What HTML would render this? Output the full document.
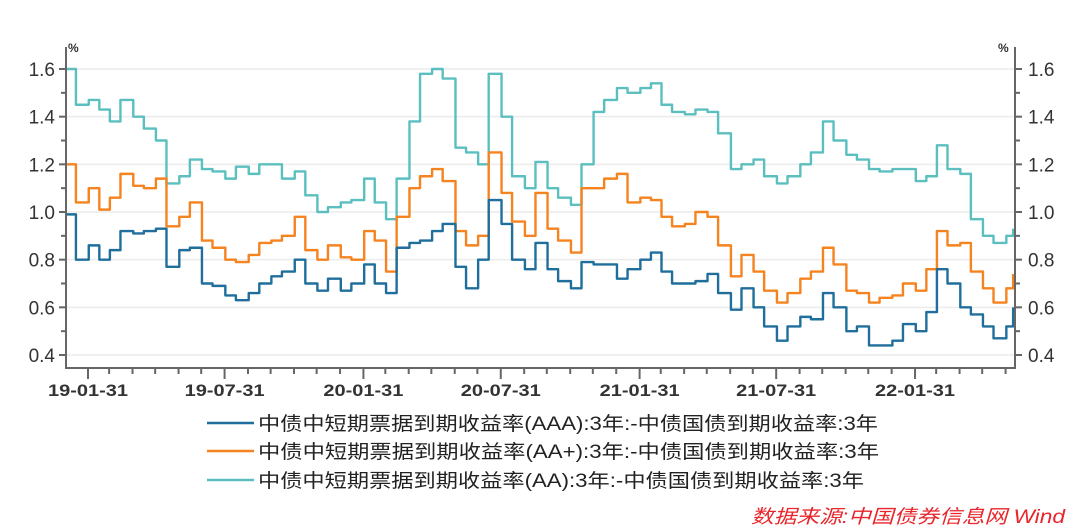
<!DOCTYPE html>
<html><head><meta charset="utf-8"><style>
html,body{margin:0;padding:0;background:#fff;width:1080px;height:528px;overflow:hidden}
svg{display:block}
text{font-family:"Liberation Sans","Noto Sans CJK SC",sans-serif}
</style></head><body>
<svg id="chart" width="1080" height="528" viewBox="0 0 1080 528">
<g id="grid"></g>
<g id="series"></g>
<g id="axes"></g>
<g>
 <g>
  <line x1="207" y1="423" x2="254" y2="423" stroke="#1f6e9c" stroke-width="2.5"/>
  <text x="258" y="430" font-size="19" fill="#222" textLength="620" lengthAdjust="spacingAndGlyphs">中债中短期票据到期收益率(AAA):3年:-中债国债到期收益率:3年</text>
 </g>
 <g>
  <line x1="207" y1="451" x2="254" y2="451" stroke="#f5831f" stroke-width="2.5"/>
  <text x="258" y="458" font-size="19" fill="#222" textLength="621" lengthAdjust="spacingAndGlyphs">中债中短期票据到期收益率(AA+):3年:-中债国债到期收益率:3年</text>
 </g>
 <g>
  <line x1="207" y1="480" x2="254" y2="480" stroke="#5bbfbf" stroke-width="2.5"/>
  <text x="258" y="487" font-size="19" fill="#222" textLength="606" lengthAdjust="spacingAndGlyphs">中债中短期票据到期收益率(AA):3年:-中债国债到期收益率:3年</text>
 </g>
</g>
<text x="751" y="523" font-size="19" font-style="italic" fill="#e8262b" textLength="314" lengthAdjust="spacingAndGlyphs">数据来源:中国债券信息网 Wind</text>
</svg>
<script>
const dates = ["2019-01-01","2019-01-15","2019-02-01","2019-02-15","2019-03-01","2019-03-15","2019-04-01","2019-04-15","2019-05-01","2019-05-15","2019-06-01","2019-06-15","2019-07-01","2019-07-15","2019-08-01","2019-08-15","2019-09-01","2019-09-15","2019-10-01","2019-10-15","2019-11-01","2019-11-15","2019-12-01","2019-12-15",
"2020-01-01","2020-01-15","2020-02-01","2020-02-15","2020-03-01","2020-03-15","2020-04-01","2020-04-15","2020-05-01","2020-05-15","2020-06-01","2020-06-15","2020-07-01","2020-07-15","2020-08-01","2020-08-15","2020-09-01","2020-09-15","2020-10-01","2020-10-15","2020-11-01","2020-11-15","2020-12-01","2020-12-15",
"2021-01-01","2021-01-15","2021-02-01","2021-02-15","2021-03-01","2021-03-15","2021-04-01","2021-04-15","2021-05-01","2021-05-15","2021-06-01","2021-06-15","2021-07-01","2021-07-15","2021-08-01","2021-08-15","2021-09-01","2021-09-15","2021-10-01","2021-10-15","2021-11-01","2021-11-15","2021-12-01","2021-12-15",
"2022-01-01","2022-01-15","2022-02-01","2022-02-15","2022-03-01","2022-03-15","2022-04-01","2022-04-15","2022-05-01","2022-05-15","2022-06-01","2022-06-10"];
const aaaValues = [0.99,0.8,0.86,0.8,0.84,0.92,0.91,0.92,0.93,0.77,0.84,0.85,0.7,0.69,0.65,0.63,0.66,0.7,0.73,0.75,0.8,0.7,0.67,0.72,0.67,0.7,0.78,0.7,0.66,0.85,0.87,0.88,0.92,0.95,0.77,0.68,0.8,1.05,0.95,0.8,0.76,0.87,0.76,0.71,0.68,0.79,0.78,0.78,0.72,0.76,0.8,0.83,0.75,0.7,0.7,0.71,0.74,0.66,0.59,0.68,0.6,0.52,0.46,0.52,0.56,0.55,0.66,0.6,0.5,0.52,0.44,0.44,0.46,0.53,0.5,0.58,0.76,0.7,0.6,0.57,0.52,0.47,0.52,0.6];
const aaPlusValues = [1.2,1.04,1.1,1.01,1.06,1.16,1.11,1.1,1.14,0.94,0.98,1.04,0.88,0.85,0.8,0.79,0.82,0.87,0.88,0.9,0.98,0.84,0.8,0.86,0.81,0.8,0.92,0.88,0.75,0.98,1.1,1.15,1.18,1.13,0.92,0.86,0.9,1.25,1.08,0.96,0.9,1.08,0.93,0.88,0.83,1.1,1.1,1.14,1.16,1.04,1.06,1.05,0.98,0.94,0.95,1.0,0.98,0.86,0.73,0.82,0.75,0.67,0.62,0.66,0.72,0.75,0.85,0.78,0.67,0.66,0.62,0.64,0.65,0.7,0.67,0.76,0.92,0.86,0.87,0.75,0.68,0.62,0.68,0.74];
const aaValues = [1.6,1.45,1.47,1.43,1.38,1.47,1.4,1.35,1.3,1.12,1.15,1.22,1.18,1.17,1.14,1.19,1.16,1.2,1.2,1.14,1.17,1.07,1.0,1.02,1.04,1.05,1.14,1.04,0.97,1.14,1.38,1.58,1.6,1.56,1.27,1.25,1.2,1.58,1.4,1.15,1.1,1.21,1.1,1.06,1.03,1.2,1.42,1.47,1.52,1.5,1.52,1.54,1.45,1.42,1.41,1.43,1.42,1.33,1.18,1.2,1.22,1.15,1.12,1.15,1.2,1.25,1.38,1.3,1.24,1.22,1.18,1.17,1.18,1.18,1.13,1.15,1.28,1.18,1.16,0.97,0.9,0.87,0.9,0.93];
const yTicks = ["0.4","0.6","0.8","1.0","1.2","1.4","1.6"];
const xTickLabels = ["19-01-31","19-07-31","20-01-31","20-07-31","21-01-31","21-07-31","22-01-31"];
const xTickDates = ["2019-01-31","2019-07-31","2020-01-31","2020-07-31","2021-01-31","2021-07-31","2022-01-31"];

const NS="http://www.w3.org/2000/svg";
const L=66,R=1015,T=47,B=368;
const ref=Date.UTC(2019,0,31);
function days(s){const p=s.split("-");return (Date.UTC(+p[0],+p[1]-1,+p[2])-ref)/86400000;}
function xs(s){return 88+days(s)*0.7546;}
function ys(v){return 355-(v-0.4)*238.33;}
function mk(tag,attrs,parent){const e=document.createElementNS(NS,tag);for(const k in attrs)e.setAttribute(k,attrs[k]);parent.appendChild(e);return e;}
const grid=document.getElementById("grid"),axes=document.getElementById("axes"),ser=document.getElementById("series");

yTicks.forEach(t=>{
  const y=ys(parseFloat(t));
  const g=mk("line",{x1:L,x2:R,y1:y,y2:y,stroke:"#ececec","stroke-width":1.5},grid);
  
  
  const a=mk("text",{x:55,y:y+7,"text-anchor":"end","font-size":19,fill:"#333"},axes);
  a.textContent=t;
  
  
  const b=mk("text",{x:1028,y:y+7,"font-size":19,fill:"#333"},axes);
  b.textContent=t;
  
  
});
for(let v=0.4;v<=1.601;v+=0.1){
  const y=ys(v);const major=Math.abs(Math.round(v*10)%2)===0;
  mk("line",{x1:L-(major?7:5),x2:L,y1:y,y2:y,stroke:"#666","stroke-width":2},axes);
  mk("line",{x1:R,x2:R+(major?7:5),y1:y,y2:y,stroke:"#666","stroke-width":2},axes);
}
mk("line",{x1:L,x2:L,y1:T,y2:B+1,stroke:"#666","stroke-width":2},axes);
mk("line",{x1:R,x2:R,y1:T,y2:B+1,stroke:"#666","stroke-width":2},axes);
mk("line",{x1:L,x2:R,y1:B,y2:B,stroke:"#666","stroke-width":2},axes);
const pl=mk("text",{x:68,y:52,"font-size":12,"font-weight":"bold",fill:"#333"},axes);pl.textContent="%";

const pr=mk("text",{x:998,y:52,"font-size":12,"font-weight":"bold",fill:"#333"},axes);pr.textContent="%";

for(let yr=2019;yr<=2022;yr++)for(let m=0;m<12;m++){
  const d=new Date(Date.UTC(yr,m+1,0));
  const s=d.toISOString().slice(0,10);const x=xs(s);
  if(x<L+2||x>R-2)continue;
  const major=(m===0||m===6);
  mk("line",{x1:x,x2:x,y1:B,y2:B+(major?11:6),stroke:"#666","stroke-width":2},axes);
}
xTickLabels.forEach((t,i)=>{
  const e=mk("text",{x:xs(xTickDates[i])-40,y:396,"font-size":17,"font-weight":"bold",fill:"#333",textLength:80,lengthAdjust:"spacingAndGlyphs"},axes);
  e.textContent=t;
  
  
});
function drawLine(vals,color,name){
  let d="";
  vals.forEach((v,i)=>{
    const x=xs(dates[i]),y=ys(v);
    if(i===0)d+="M"+x+","+y;else d+="H"+x+"V"+y;
  });
  const p=mk("path",{d:d,fill:"none",stroke:color,"stroke-width":2.4,"stroke-linejoin":"round"},ser);
  
  
}
drawLine(aaValues,"#5bbfbf","series-aa-line");
drawLine(aaPlusValues,"#f5831f","series-aa-plus-line");
drawLine(aaaValues,"#1f6e9c","series-aaa-line");
</script>
</body></html>
